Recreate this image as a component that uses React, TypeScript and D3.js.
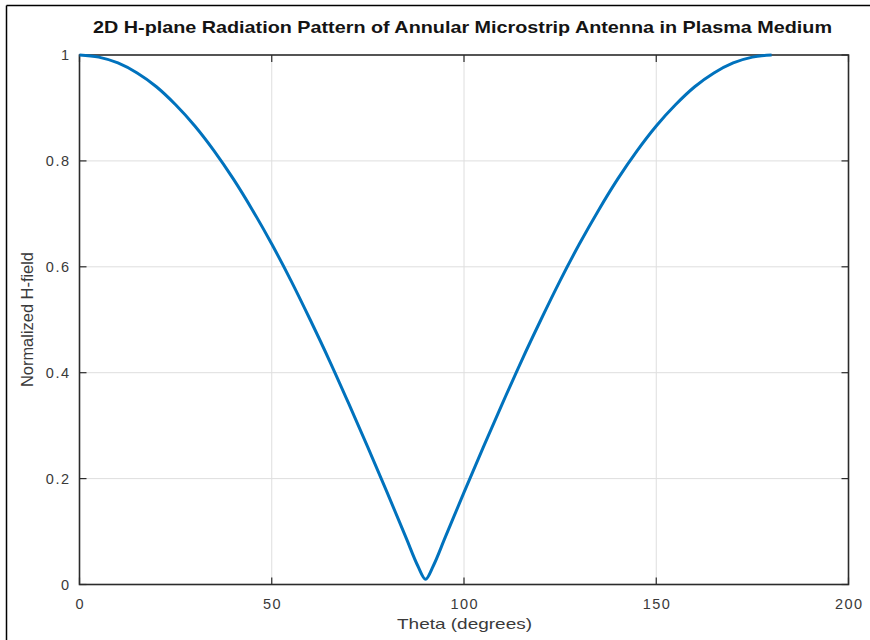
import React from "react";
import * as d3 from "d3";

const thetaDeg = [0, 5, 10, 15, 20, 25, 30, 35, 40, 45, 50, 55, 60, 65, 70, 75, 80, 85, 88, 90, 92, 95, 100, 105, 110, 115, 120, 125, 130, 135, 140, 145, 150, 155, 160, 165, 170, 175, 180];
const hField = [1.0, 0.996, 0.985, 0.966, 0.94, 0.906, 0.866, 0.819, 0.766, 0.707, 0.643, 0.574, 0.5, 0.423, 0.342, 0.259, 0.174, 0.087, 0.035, 0.01, 0.035, 0.087, 0.174, 0.259, 0.342, 0.423, 0.5, 0.574, 0.643, 0.707, 0.766, 0.819, 0.866, 0.906, 0.94, 0.966, 0.985, 0.996, 1.0];
const xTicks = [0, 50, 100, 150, 200];
const yTicks = [0, 0.2, 0.4, 0.6, 0.8, 1];
const titleText = "2D H-plane Radiation Pattern of Annular Microstrip Antenna in Plasma Medium";
const xLabel = "Theta (degrees)";
const yLabel = "Normalized H-field";

export default function App() {
  const W = 870, H = 640;
  const L = 79.5, R = 848.5, T = 55, B = 584.5;
  const x = d3.scaleLinear().domain([0, 200]).range([L, R]);
  const y = d3.scaleLinear().domain([0, 1]).range([B, T]);
  const line = d3
    .line<number>()
    .x((_, i) => x(thetaDeg[i]))
    .y((d) => y(d))
    .curve(d3.curveMonotoneX);
  const tickLen = 7;
  const axisColor = "#2b2b2b";
  const font = "'Liberation Sans', Arial, Helvetica, sans-serif";
  const ls = 1.5;
  return (
    <svg width={W} height={H} style={{ position: "absolute", left: 0, top: 0, background: "#fff" }} fontFamily={font}>
      <rect x={0} y={0} width={W} height={H} fill="#fff" />
      {/* outer border (top and left) */}
      <line x1={6.5} y1={5.5} x2={W} y2={5.5} stroke="#000" strokeWidth={1.5} />
      <line x1={6.5} y1={5.5} x2={6.5} y2={H} stroke="#000" strokeWidth={1.5} />
      {/* grid */}
      {xTicks.slice(1, -1).map((t) => (
        <line key={"gx" + t} x1={x(t)} x2={x(t)} y1={T} y2={B} stroke="#dedede" strokeWidth={1} />
      ))}
      {yTicks.slice(1, -1).map((t) => (
        <line key={"gy" + t} x1={L} x2={R} y1={y(t)} y2={y(t)} stroke="#dedede" strokeWidth={1} />
      ))}
      {/* ticks */}
      {xTicks.map((t) => (
        <g key={"tx" + t}>
          <line x1={x(t)} x2={x(t)} y1={B} y2={B - tickLen} stroke={axisColor} strokeWidth={1.2} />
          <line x1={x(t)} x2={x(t)} y1={T} y2={T + tickLen} stroke={axisColor} strokeWidth={1.2} />
          <text x={x(t) + ls / 2} y={609} textAnchor="middle" fontSize={14.5} letterSpacing={ls} fill="#3a3a3a">
            {t}
          </text>
        </g>
      ))}
      {yTicks.map((t) => (
        <g key={"ty" + t}>
          <line x1={L} x2={L + tickLen} y1={y(t)} y2={y(t)} stroke={axisColor} strokeWidth={1.2} />
          <line x1={R} x2={R - tickLen} y1={y(t)} y2={y(t)} stroke={axisColor} strokeWidth={1.2} />
          <text x={69 + ls} y={y(t) + 5.2} textAnchor="end" fontSize={14.5} letterSpacing={ls} fill="#3a3a3a">
            {d3.format("~g")(t)}
          </text>
        </g>
      ))}
      {/* frame */}
      <rect x={L} y={T} width={R - L} height={B - T} fill="none" stroke={axisColor} strokeWidth={1.6} />
      {/* data */}
      <path d={line(hField) || ""} fill="none" stroke="#0072BD" strokeWidth={3} strokeLinejoin="round" />
      {/* labels */}
      <text x={462.5} y={33.3} textAnchor="middle" fontSize={16.3} fontWeight="bold" fill="#141414" textLength={739} lengthAdjust="spacingAndGlyphs">
        {titleText}
      </text>
      <text x={464.5} y={628.5} textAnchor="middle" fontSize={15} fill="#3a3a3a" textLength={135} lengthAdjust="spacingAndGlyphs">
        {xLabel}
      </text>
      <text transform={`translate(32.5, 319.5) rotate(-90)`} textAnchor="middle" fontSize={16} fill="#3a3a3a" textLength={135} lengthAdjust="spacingAndGlyphs">
        {yLabel}
      </text>
    </svg>
  );
}
